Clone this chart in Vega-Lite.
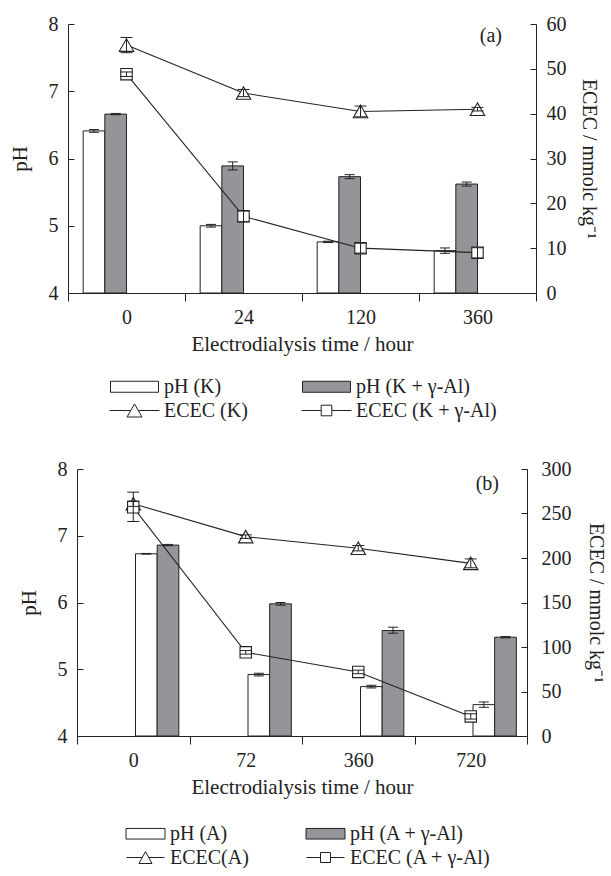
{
  "$schema": "https://vega.github.io/schema/vega-lite/v6.json",
  "padding": {"left": 9, "top": 14, "right": 0, "bottom": 0},
  "background": "white",
  "spacing": 176,
  "bounds": "flush",
  "center": true,
  "resolve": {"scale": {"fill": "independent", "shape": "independent"}, "legend": {"fill": "independent", "shape": "independent"}},
  "config": {
    "view": {"stroke": null},
    "font": "Liberation Serif",
    "axis": {"labelFont": "Liberation Serif", "labelFontSize": 20, "titleFont": "Liberation Serif", "titleFontSize": 21, "titleFontWeight": "normal", "labelColor": "#222", "titleColor": "#222", "domainColor": "#222", "tickColor": "#222", "grid": false},
    "legend": {"labelFont": "Liberation Serif", "labelFontSize": 20, "labelColor": "#222"}
  },
  "datasets": {
    "phA": [
      {"time": 0, "series": "pH (K)", "ph": 6.41, "lo": 6.39, "hi": 6.43},
      {"time": 0, "series": "pH (K + γ-Al)", "ph": 6.66, "lo": 6.65, "hi": 6.67},
      {"time": 24, "series": "pH (K)", "ph": 5.0, "lo": 4.98, "hi": 5.02},
      {"time": 24, "series": "pH (K + γ-Al)", "ph": 5.89, "lo": 5.83, "hi": 5.95},
      {"time": 120, "series": "pH (K)", "ph": 4.76, "lo": 4.75, "hi": 4.77},
      {"time": 120, "series": "pH (K + γ-Al)", "ph": 5.73, "lo": 5.7, "hi": 5.76},
      {"time": 360, "series": "pH (K)", "ph": 4.63, "lo": 4.59, "hi": 4.67},
      {"time": 360, "series": "pH (K + γ-Al)", "ph": 5.62, "lo": 5.59, "hi": 5.65}
    ],
    "ececA": [
      {"time": 0, "series": "ECEC (K)", "ecec": 55.3, "lo": 53.6, "hi": 57.0},
      {"time": 24, "series": "ECEC (K)", "ecec": 44.6, "lo": 43.8, "hi": 45.4},
      {"time": 120, "series": "ECEC (K)", "ecec": 40.5, "lo": 39.3, "hi": 41.7},
      {"time": 360, "series": "ECEC (K)", "ecec": 41.0, "lo": 40.6, "hi": 41.4},
      {"time": 0, "series": "ECEC (K + γ-Al)", "ecec": 48.8, "lo": 48.3, "hi": 49.3},
      {"time": 24, "series": "ECEC (K + γ-Al)", "ecec": 17.1, "lo": 15.9, "hi": 18.3},
      {"time": 120, "series": "ECEC (K + γ-Al)", "ecec": 10.0, "lo": 8.9, "hi": 11.1},
      {"time": 360, "series": "ECEC (K + γ-Al)", "ecec": 9.0, "lo": 7.8, "hi": 10.1}
    ],
    "phB": [
      {"time": 0, "series": "pH (A)", "ph": 6.73, "lo": 6.725, "hi": 6.735},
      {"time": 0, "series": "pH (A + γ-Al)", "ph": 6.86, "lo": 6.85, "hi": 6.87},
      {"time": 72, "series": "pH (A)", "ph": 4.92, "lo": 4.9, "hi": 4.94},
      {"time": 72, "series": "pH (A + γ-Al)", "ph": 5.98, "lo": 5.96, "hi": 6.0},
      {"time": 360, "series": "pH (A)", "ph": 4.74, "lo": 4.72, "hi": 4.76},
      {"time": 360, "series": "pH (A + γ-Al)", "ph": 5.58, "lo": 5.54, "hi": 5.63},
      {"time": 720, "series": "pH (A)", "ph": 4.47, "lo": 4.43, "hi": 4.51},
      {"time": 720, "series": "pH (A + γ-Al)", "ph": 5.48, "lo": 5.47, "hi": 5.49}
    ],
    "ececB": [
      {"time": 0, "series": "ECEC(A)", "ecec": 261, "lo": 258, "hi": 264},
      {"time": 72, "series": "ECEC(A)", "ecec": 224, "lo": 222, "hi": 226},
      {"time": 360, "series": "ECEC(A)", "ecec": 211, "lo": 208, "hi": 214},
      {"time": 720, "series": "ECEC(A)", "ecec": 194, "lo": 189, "hi": 199},
      {"time": 0, "series": "ECEC (A + γ-Al)", "ecec": 257, "lo": 241, "hi": 274},
      {"time": 72, "series": "ECEC (A + γ-Al)", "ecec": 94, "lo": 92, "hi": 96},
      {"time": 360, "series": "ECEC (A + γ-Al)", "ecec": 72, "lo": 70, "hi": 74},
      {"time": 720, "series": "ECEC (A + γ-Al)", "ecec": 22, "lo": 19, "hi": 25}
    ]
  },
  "vconcat": [
    {
      "width": 468,
      "height": 269,
      "title": {"text": "(a)", "anchor": "end", "frame": "group", "offset": -32, "dx": -34, "font": "Liberation Serif", "fontSize": 20, "fontWeight": "normal", "color": "#222"},
      "layer": [
        {
          "layer": [
            {
              "data": {"name": "phA"},
              "mark": {"type": "bar", "stroke": "#222", "strokeWidth": 1},
              "encoding": {
                "x": {"field": "time", "type": "ordinal", "title": "Electrodialysis time / hour", "scale": {"paddingInner": 0, "paddingOuter": 0}, "axis": {"labelAngle": 0, "tickBand": "extent", "tickSize": 8, "labelPadding": 6, "titlePadding": 6}},
                "xOffset": {"field": "series", "type": "nominal", "scale": {"domain": ["pH (K)", "pH (K + γ-Al)"], "paddingInner": 0, "paddingOuter": 0.7}},
                "y": {"field": "ph", "type": "quantitative", "title": "pH", "scale": {"domain": [4, 8]}, "axis": {"orient": "left", "values": [4, 5, 6, 7, 8], "format": "d", "tickSize": -6, "labelPadding": 16, "titlePadding": 18}},
                "y2": {"datum": 4},
                "fill": {"field": "series", "type": "nominal", "scale": {"domain": ["pH (K)", "pH (K + γ-Al)", "ECEC (K)", "ECEC (K + γ-Al)"], "range": ["white", "#939598", "white", "white"]}, "legend": {"title": null, "orient": "none", "direction": "horizontal", "legendX": 56, "legendY": 352, "columns": 2, "columnPadding": 51, "rowPadding": 3, "labelOffset": 19, "symbolSize": 400, "symbolStrokeColor": "#222", "symbolStrokeWidth": 1, "padding": 0, "labelLimit": 400}}
              }
            },
            {
              "data": {"name": "phA"},
              "mark": {"type": "rule", "stroke": "#222", "strokeWidth": 1},
              "encoding": {
                "x": {"field": "time", "type": "ordinal", "title": "Electrodialysis time / hour"},
                "xOffset": {"field": "series", "type": "nominal"},
                "y": {"field": "lo", "type": "quantitative", "title": "pH"},
                "y2": {"field": "hi"}
              }
            },
            {
              "data": {"name": "phA"},
              "mark": {"type": "tick", "color": "#222", "size": 10, "thickness": 1, "opacity": 1},
              "encoding": {
                "x": {"field": "time", "type": "ordinal", "title": "Electrodialysis time / hour"},
                "xOffset": {"field": "series", "type": "nominal"},
                "y": {"field": "lo", "type": "quantitative", "title": "pH"}
              }
            },
            {
              "data": {"name": "phA"},
              "mark": {"type": "tick", "color": "#222", "size": 10, "thickness": 1, "opacity": 1},
              "encoding": {
                "x": {"field": "time", "type": "ordinal", "title": "Electrodialysis time / hour"},
                "xOffset": {"field": "series", "type": "nominal"},
                "y": {"field": "hi", "type": "quantitative", "title": "pH"}
              }
            }
          ]
        },
        {
          "layer": [
            {
              "data": {"name": "ececA"},
              "mark": {"type": "line", "stroke": "#222", "strokeWidth": 1.1},
              "encoding": {
                "x": {"field": "time", "type": "ordinal", "title": "Electrodialysis time / hour"},
                "y": {"field": "ecec", "type": "quantitative", "title": "ECEC / mmolc kg⁻¹", "scale": {"domain": [0, 60]}, "axis": {"orient": "right", "values": [0, 10, 20, 30, 40, 50, 60], "tickSize": -6, "labelPadding": 16, "titlePadding": 12, "titleFontSize": 20}},
                "detail": {"field": "series", "type": "nominal"}
              }
            },
            {
              "data": {"name": "ececA"},
              "transform": [{"filter": "datum.series == 'ECEC (K)'"}],
              "mark": {"type": "point", "shape": "triangle-up", "size": 210, "filled": true, "fill": "white", "stroke": "#222", "strokeWidth": 1.1, "opacity": 1},
              "encoding": {
                "x": {"field": "time", "type": "ordinal", "title": "Electrodialysis time / hour"},
                "y": {"field": "ecec", "type": "quantitative", "title": "ECEC / mmolc kg⁻¹"}
              }
            },
            {
              "data": {"name": "ececA"},
              "transform": [{"filter": "datum.series == 'ECEC (K + γ-Al)'"}],
              "mark": {"type": "point", "shape": "square", "size": 130, "filled": true, "fill": "white", "stroke": "#222", "strokeWidth": 1.1, "opacity": 1},
              "encoding": {
                "x": {"field": "time", "type": "ordinal", "title": "Electrodialysis time / hour"},
                "y": {"field": "ecec", "type": "quantitative", "title": "ECEC / mmolc kg⁻¹"}
              }
            },
            {
              "data": {"name": "ececA"},
              "mark": {"type": "rule", "stroke": "#222", "strokeWidth": 1},
              "encoding": {
                "x": {"field": "time", "type": "ordinal", "title": "Electrodialysis time / hour"},
                "y": {"field": "lo", "type": "quantitative", "title": "ECEC / mmolc kg⁻¹"},
                "y2": {"field": "hi"}
              }
            },
            {
              "data": {"name": "ececA"},
              "mark": {"type": "tick", "color": "#222", "size": 12, "thickness": 1, "opacity": 1},
              "encoding": {
                "x": {"field": "time", "type": "ordinal", "title": "Electrodialysis time / hour"},
                "y": {"field": "lo", "type": "quantitative", "title": "ECEC / mmolc kg⁻¹"}
              }
            },
            {
              "data": {"name": "ececA"},
              "mark": {"type": "tick", "color": "#222", "size": 12, "thickness": 1, "opacity": 1},
              "encoding": {
                "x": {"field": "time", "type": "ordinal", "title": "Electrodialysis time / hour"},
                "y": {"field": "hi", "type": "quantitative", "title": "ECEC / mmolc kg⁻¹"}
              }
            },
            {
              "data": {"values": []},
              "mark": {"type": "point", "filled": true, "opacity": 1, "stroke": "#222", "strokeWidth": 1},
              "encoding": {
                "fill": {"field": "series", "type": "nominal", "scale": {"domain": ["pH (K)", "pH (K + γ-Al)", "ECEC (K)", "ECEC (K + γ-Al)"], "range": ["white", "#939598", "white", "white"]}, "legend": {"title": null, "orient": "none", "direction": "horizontal", "legendX": 56, "legendY": 352, "columns": 2, "columnPadding": 51, "rowPadding": 3, "labelOffset": 19, "symbolSize": 400, "symbolStrokeColor": "#222", "symbolStrokeWidth": 1, "padding": 0, "labelLimit": 400}},
                "shape": {"field": "series", "type": "nominal", "scale": {"domain": ["pH (K)", "pH (K + γ-Al)", "ECEC (K)", "ECEC (K + γ-Al)"], "range": ["M-2.4,-0.55H2.4V0.55H-2.4Z", "M-2.4,-0.55H2.4V0.55H-2.4Z", "M-2.5,0H-0.375M0.375,0H2.5M-0.75,0.65L0,-0.65L0.75,0.65Z", "M-2.5,0H-0.53M0.53,0H2.5M-0.53,-0.53H0.53V0.53H-0.53Z"]}, "legend": {"title": null, "orient": "none", "direction": "horizontal", "legendX": 56, "legendY": 352, "columns": 2, "columnPadding": 51, "rowPadding": 3, "labelOffset": 19, "symbolSize": 400, "symbolStrokeColor": "#222", "symbolStrokeWidth": 1, "padding": 0, "labelLimit": 400}}
              }
            }
          ]
        }
      ],
      "resolve": {"scale": {"y": "independent"}}
    },
    {
      "width": 450,
      "height": 267,
      "title": {"text": "(b)", "anchor": "end", "frame": "group", "offset": -35, "dx": -28, "font": "Liberation Serif", "fontSize": 20, "fontWeight": "normal", "color": "#222"},
      "layer": [
        {
          "layer": [
            {
              "data": {"name": "phB"},
              "mark": {"type": "bar", "stroke": "#222", "strokeWidth": 1},
              "encoding": {
                "x": {"field": "time", "type": "ordinal", "title": "Electrodialysis time / hour", "scale": {"paddingInner": 0, "paddingOuter": 0}, "axis": {"labelAngle": 0, "tickBand": "extent", "tickSize": 8, "labelPadding": 6, "titlePadding": 6}},
                "xOffset": {"field": "series", "type": "nominal", "scale": {"domain": ["pH (A)", "pH (A + γ-Al)"], "paddingInner": 0, "paddingOuter": 0.7}},
                "y": {"field": "ph", "type": "quantitative", "title": "pH", "scale": {"domain": [4, 8]}, "axis": {"orient": "left", "values": [4, 5, 6, 7, 8], "format": "d", "tickSize": -6, "labelPadding": 16, "titlePadding": 18}},
                "y2": {"datum": 4},
                "fill": {"field": "series", "type": "nominal", "scale": {"domain": ["pH (A)", "pH (A + γ-Al)", "ECEC(A)", "ECEC (A + γ-Al)"], "range": ["white", "#939598", "white", "white"]}, "legend": {"title": null, "orient": "none", "direction": "horizontal", "legendX": 58, "legendY": 354, "columns": 2, "columnPadding": 55, "rowPadding": 3, "labelOffset": 14, "symbolSize": 400, "symbolStrokeColor": "#222", "symbolStrokeWidth": 1, "padding": 0, "labelLimit": 400}}
              }
            },
            {
              "data": {"name": "phB"},
              "mark": {"type": "rule", "stroke": "#222", "strokeWidth": 1},
              "encoding": {
                "x": {"field": "time", "type": "ordinal", "title": "Electrodialysis time / hour"},
                "xOffset": {"field": "series", "type": "nominal"},
                "y": {"field": "lo", "type": "quantitative", "title": "pH"},
                "y2": {"field": "hi"}
              }
            },
            {
              "data": {"name": "phB"},
              "mark": {"type": "tick", "color": "#222", "size": 10, "thickness": 1, "opacity": 1},
              "encoding": {
                "x": {"field": "time", "type": "ordinal", "title": "Electrodialysis time / hour"},
                "xOffset": {"field": "series", "type": "nominal"},
                "y": {"field": "lo", "type": "quantitative", "title": "pH"}
              }
            },
            {
              "data": {"name": "phB"},
              "mark": {"type": "tick", "color": "#222", "size": 10, "thickness": 1, "opacity": 1},
              "encoding": {
                "x": {"field": "time", "type": "ordinal", "title": "Electrodialysis time / hour"},
                "xOffset": {"field": "series", "type": "nominal"},
                "y": {"field": "hi", "type": "quantitative", "title": "pH"}
              }
            }
          ]
        },
        {
          "layer": [
            {
              "data": {"name": "ececB"},
              "mark": {"type": "line", "stroke": "#222", "strokeWidth": 1.1},
              "encoding": {
                "x": {"field": "time", "type": "ordinal", "title": "Electrodialysis time / hour"},
                "y": {"field": "ecec", "type": "quantitative", "title": "ECEC / mmolc kg⁻¹", "scale": {"domain": [0, 300]}, "axis": {"orient": "right", "values": [0, 50, 100, 150, 200, 250, 300], "tickSize": -6, "labelPadding": 20, "titlePadding": 14, "titleFontSize": 20}},
                "detail": {"field": "series", "type": "nominal"}
              }
            },
            {
              "data": {"name": "ececB"},
              "transform": [{"filter": "datum.series == 'ECEC(A)'"}],
              "mark": {"type": "point", "shape": "triangle-up", "size": 210, "filled": true, "fill": "white", "stroke": "#222", "strokeWidth": 1.1, "opacity": 1},
              "encoding": {
                "x": {"field": "time", "type": "ordinal", "title": "Electrodialysis time / hour"},
                "y": {"field": "ecec", "type": "quantitative", "title": "ECEC / mmolc kg⁻¹"}
              }
            },
            {
              "data": {"name": "ececB"},
              "transform": [{"filter": "datum.series == 'ECEC (A + γ-Al)'"}],
              "mark": {"type": "point", "shape": "square", "size": 130, "filled": true, "fill": "white", "stroke": "#222", "strokeWidth": 1.1, "opacity": 1},
              "encoding": {
                "x": {"field": "time", "type": "ordinal", "title": "Electrodialysis time / hour"},
                "y": {"field": "ecec", "type": "quantitative", "title": "ECEC / mmolc kg⁻¹"}
              }
            },
            {
              "data": {"name": "ececB"},
              "mark": {"type": "rule", "stroke": "#222", "strokeWidth": 1},
              "encoding": {
                "x": {"field": "time", "type": "ordinal", "title": "Electrodialysis time / hour"},
                "y": {"field": "lo", "type": "quantitative", "title": "ECEC / mmolc kg⁻¹"},
                "y2": {"field": "hi"}
              }
            },
            {
              "data": {"name": "ececB"},
              "mark": {"type": "tick", "color": "#222", "size": 12, "thickness": 1, "opacity": 1},
              "encoding": {
                "x": {"field": "time", "type": "ordinal", "title": "Electrodialysis time / hour"},
                "y": {"field": "lo", "type": "quantitative", "title": "ECEC / mmolc kg⁻¹"}
              }
            },
            {
              "data": {"name": "ececB"},
              "mark": {"type": "tick", "color": "#222", "size": 12, "thickness": 1, "opacity": 1},
              "encoding": {
                "x": {"field": "time", "type": "ordinal", "title": "Electrodialysis time / hour"},
                "y": {"field": "hi", "type": "quantitative", "title": "ECEC / mmolc kg⁻¹"}
              }
            },
            {
              "data": {"values": []},
              "mark": {"type": "point", "filled": true, "opacity": 1, "stroke": "#222", "strokeWidth": 1},
              "encoding": {
                "fill": {"field": "series", "type": "nominal", "scale": {"domain": ["pH (A)", "pH (A + γ-Al)", "ECEC(A)", "ECEC (A + γ-Al)"], "range": ["white", "#939598", "white", "white"]}, "legend": {"title": null, "orient": "none", "direction": "horizontal", "legendX": 58, "legendY": 354, "columns": 2, "columnPadding": 55, "rowPadding": 3, "labelOffset": 14, "symbolSize": 400, "symbolStrokeColor": "#222", "symbolStrokeWidth": 1, "padding": 0, "labelLimit": 400}},
                "shape": {"field": "series", "type": "nominal", "scale": {"domain": ["pH (A)", "pH (A + γ-Al)", "ECEC(A)", "ECEC (A + γ-Al)"], "range": ["M-1.95,-0.53H1.95V0.53H-1.95Z", "M-1.95,-0.53H1.95V0.53H-1.95Z", "M-1.9,0H-0.325M0.325,0H1.9M-0.65,0.6L0,-0.6L0.65,0.6Z", "M-1.9,0H-0.5M0.5,0H1.9M-0.5,-0.5H0.5V0.5H-0.5Z"]}, "legend": {"title": null, "orient": "none", "direction": "horizontal", "legendX": 58, "legendY": 354, "columns": 2, "columnPadding": 55, "rowPadding": 3, "labelOffset": 14, "symbolSize": 400, "symbolStrokeColor": "#222", "symbolStrokeWidth": 1, "padding": 0, "labelLimit": 400}}
              }
            }
          ]
        }
      ],
      "resolve": {"scale": {"y": "independent"}}
    }
  ]
}
